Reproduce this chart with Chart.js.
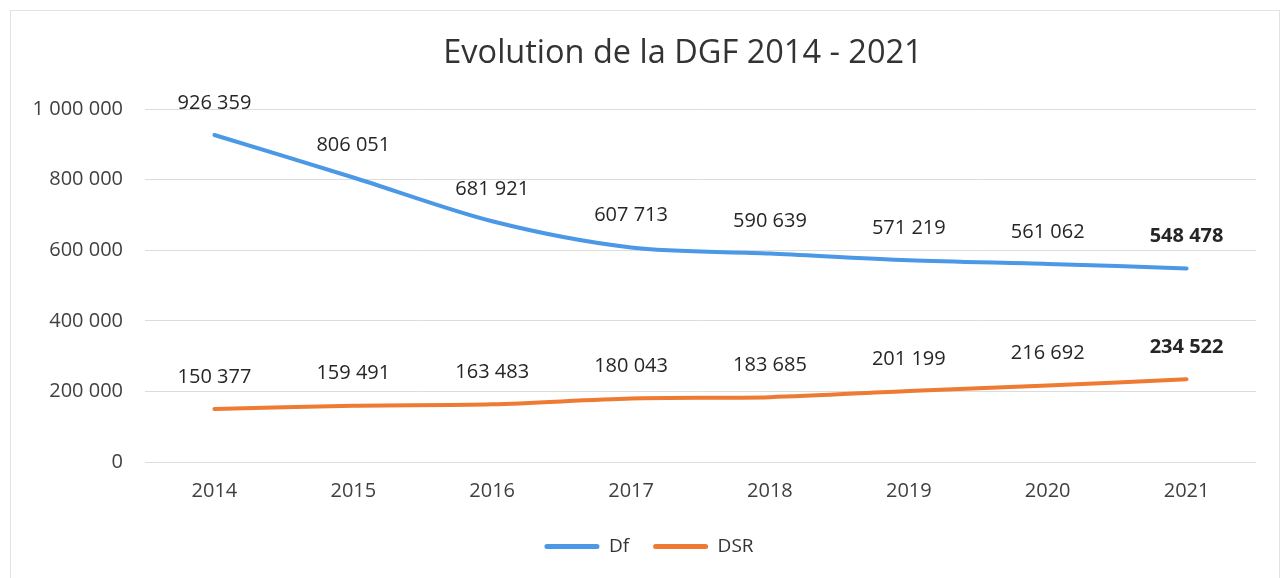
<!DOCTYPE html>
<html>
<head>
<meta charset="utf-8">
<script src="https://cdn.jsdelivr.net/npm/chart.js@4/dist/chart.umd.min.js"></script>
<style>
  html, body { margin:0; padding:0; background:#fff; }
  #wrap { width:1282px; height:578px; position:relative; }
</style>
</head>
<body>
<div id="wrap"><canvas id="graph"></canvas></div>
<script>
// valeurs
const annees = ['2014','2015','2016','2017','2018','2019','2020','2021'];
const df  = [926359, 806051, 681921, 607713, 590639, 571219, 561062, 548478];
const dsr = [150377, 159491, 163483, 180043, 183685, 201199, 216692, 234522];
const yTicks = [0, 200000, 400000, 600000, 800000, 1000000];

const FONT = "'Open Sans', 'DejaVu Sans', sans-serif";
const fmt = v => String(v).replace(/\B(?=(\d{3})+(?!\d))/g, ' ');

// cadre gris clair + recentrage du titre et de la légende
const cadre = {
  id:'cadre',
  afterLayout(chart){
    if (chart.titleBlock) { chart.titleBlock.left = 110; chart.titleBlock.right = 1256; }
    if (chart.legend) { chart.legend.left += 21; chart.legend.right += 21; }
  },
  beforeDraw(chart){
    const c = chart.ctx;
    c.save();
    c.strokeStyle = '#e3e3e3'; c.lineWidth = 1;
    c.strokeRect(10.5, 10.5, 1269, 570);
    c.restore();
  }
};

// étiquettes de valeurs au-dessus des points, la dernière en gras
const etiquettes = {
  id:'etiquettes',
  afterDatasetsDraw(chart){
    const c = chart.ctx;
    c.save();
    c.fillStyle = '#262626';
    c.textAlign = 'center'; c.textBaseline = 'middle';
    chart.data.datasets.forEach((ds, i) => {
      chart.getDatasetMeta(i).data.forEach((pt, j) => {
        const last = j === ds.data.length - 1;
        c.font = (last ? 'bold ' : '') + '20px ' + FONT;
        c.fillText(fmt(ds.data[j]), pt.x, pt.y - 32);
      });
    });
    c.restore();
  }
};

const ctx = document.getElementById('graph').getContext('2d');
const graph = new Chart(ctx, {
  type:'line',
  data:{
    labels: annees,
    datasets:[
      {label:'Df', data: df, borderColor:'#4a98e6', backgroundColor:'#4a98e6', borderWidth:4, pointRadius:0, tension:0.3, borderCapStyle:'round'},
      {label:'DSR', data: dsr, borderColor:'#ee7a33', backgroundColor:'#ee7a33', borderWidth:4, pointRadius:0, tension:0.3, borderCapStyle:'round'}
    ]
  },
  options:{
    responsive:true, maintainAspectRatio:false, animation:false,
    layout:{padding:{top:10, right:26, bottom:12, left:0}},
    plugins:{
      title:{display:true, text:'Evolution de la DGF 2014 - 2021', color:'#333',
        font:{family:FONT, size:32.5, weight:'normal'}, padding:{top:24, bottom:36}},
      legend:{position:'bottom',
        labels:{color:'#333', font:{family:FONT, size:19}, boxWidth:55, boxHeight:5, padding:24,
          generateLabels(chart){
            return chart.data.datasets.map((ds, i) => ({
              text: ds.label, fillStyle: ds.borderColor, strokeStyle: ds.borderColor,
              lineWidth: 0, borderRadius: 2.5, datasetIndex: i, hidden: false, fontColor:'#333'
            }));
          }, useBorderRadius:true, borderRadius:2.5}},
      tooltip:{enabled:false}
    },
    scales:{
      x:{
        offset:true,
        grid:{display:false, drawTicks:false},
        border:{display:false},
        ticks:{color:'#404040', font:{family:FONT, size:20}, padding:17, maxRotation:0},
        afterFit(s){ s.height = 51; }
      },
      y:{
        min:0, max:1000000,
        afterBuildTicks(s){ s.ticks = yTicks.map(v => ({value:v})); },
        grid:{color:'#dcdcdc', lineWidth:1, drawTicks:false},
        border:{display:false},
        ticks:{color:'#404040', font:{family:FONT, size:20}, padding:22, callback: v => fmt(v)},
        afterFit(s){ s.width = 145; }
      }
    }
  },
  plugins:[cadre, etiquettes]
});
</script>
</body>
</html>
